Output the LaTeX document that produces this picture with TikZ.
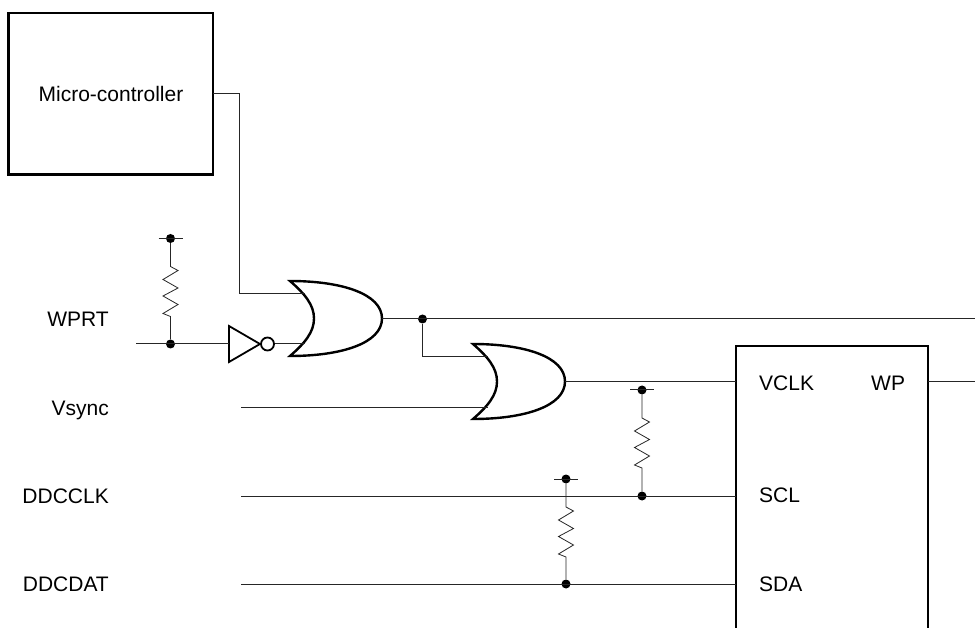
\documentclass[tikz,border=0pt]{standalone}
\usepackage{fontspec}
\setmainfont{Liberation Sans}
\tikzset{
  wire/.style={line width=1pt,black!85},
  gateline/.style={line width=2.4pt,line join=miter},
  dot/.style={draw=none,fill=black,circle,inner sep=0pt,minimum size=9pt},
  lbl/.style={font=\fontsize{21}{24}\selectfont,inner sep=0pt},
  orgate/.pic={
    \draw[gateline] (0,0) .. controls (15,13) and (24,24) .. (24,37.5)
      .. controls (24,51) and (15,62) .. (0,75)
      .. controls (52,75) and (92,62) .. (92,37.5)
      .. controls (92,13) and (52,0) .. (0,0) -- cycle;
    \coordinate (-a) at (15,13);
    \coordinate (-b) at (15,63);
    \coordinate (-out) at (92,37.5);
  },
  % zigzag between two dots, always the same size
  res/.style={to path={
    -- ++(0,28) -- ++(7.5,4) -- ++(-15,9) -- ++(15,8.5) -- ++(-15,8) -- ++(15,8.5) -- ++(-15,9) -- ++(7.5,3) -- (\tikztotarget)}},
}
\begin{document}
\begin{tikzpicture}[x=1pt,y=-1pt]
\useasboundingbox (0,0) rectangle (975,628);
\node[draw,line width=2.3pt,minimum width=204.7pt,minimum height=161.5pt,inner sep=0pt,outer sep=0pt] (mcu) at (110.7,93.75) {};
\node[lbl,anchor=base] (mcutext) at (111,101.7) {Micro-controller};

\pic (or1) at (290,281) {orgate};
\pic (or2) at (473,344) {orgate};

\coordinate (invtop) at (229,326);
\coordinate (invbot) at (229,362);
\coordinate (invtip) at (260,344);
\coordinate (invin) at (229,344);
\draw[line width=1.8pt,line join=miter] (invtop) -- (invtip) -- (invbot) -- cycle;
\node[draw,circle,line width=1.8pt,inner sep=0pt,minimum size=13pt] (bub) at (267.5,344) {};

\coordinate (boxsw) at (735.7,628);
\coordinate (boxse) at (928,628);
\draw[line width=2.2pt] (boxsw) |- (boxse |- 0,346) -- (boxse);

\node[lbl,anchor=base east] (wprt) at (109,326.5) {WPRT};
\node[lbl,anchor=base east] (vsync) at (109,415) {Vsync};
\node[lbl,anchor=base east] (ddcclk) at (109,503.5) {DDCCLK};
\node[lbl,anchor=base east] (ddcdat) at (109,591.5) {DDCDAT};
\node[lbl,anchor=base west] (vclk) at (759,390) {VCLK};
\node[lbl,anchor=base west] (wp) at (871,390) {WP};
\node[lbl,anchor=base west] (scl) at (759,502.7) {SCL};
\node[lbl,anchor=base west] (sda) at (759,591.7) {SDA};

\coordinate (wprtin) at (136,344);
\coordinate (vsyncin) at (241,407.5);
\coordinate (clkin) at (241,496);
\coordinate (datin) at (241,584);
\coordinate (wpin) at (736,382);
\coordinate (sclin) at (736,496);
\coordinate (sdain) at (736,584);
\coordinate (wpout) at (928,382);
\coordinate (wpend) at (975,382);
\coordinate (busend) at (975,319);

\node[dot] (d1) at (170.5,344) {};
\node[dot] (d2) at (422.5,319) {};
\node[dot] (d3) at (642,496) {};
\node[dot] (d4) at (566,584) {};
\node[dot] (t1) at (170.5,238.5) {};
\node[dot] (t2) at (642,390) {};
\node[dot] (t3) at (566,479) {};

\path[draw,wire] (mcu.east |- 0,93.3) -| (239.3,294) -- (or1-a);
\path[draw,wire] (wprtin) -- (invin);
\path[draw,wire] (bub) -- (or1-a |- bub);
\path[draw,wire] (or1-out) -- (or1-out -| busend);
\path[draw,wire] (d2) |- (or2-a);
\path[draw,wire] (vsyncin) -- (or2-b |- vsyncin);
\path[draw,wire] (or2-out) -- (or2-out -| wpin);
\path[draw,wire] (wpout) -- (wpend);
\path[draw,wire] (clkin) -- (sclin);
\path[draw,wire] (datin) -- (sdain);

\draw[wire,line width=.8pt] (t1) to[res] (d1);
\draw[wire,line width=.8pt] (t2) to[res] (d3);
\draw[wire,line width=.8pt] (t3) to[res] (d4);
\foreach \t in {t1,t2,t3}
  \draw[wire] ([xshift=-12pt]\t.center) -- ([xshift=12pt]\t.center);
\end{tikzpicture}
\end{document}
